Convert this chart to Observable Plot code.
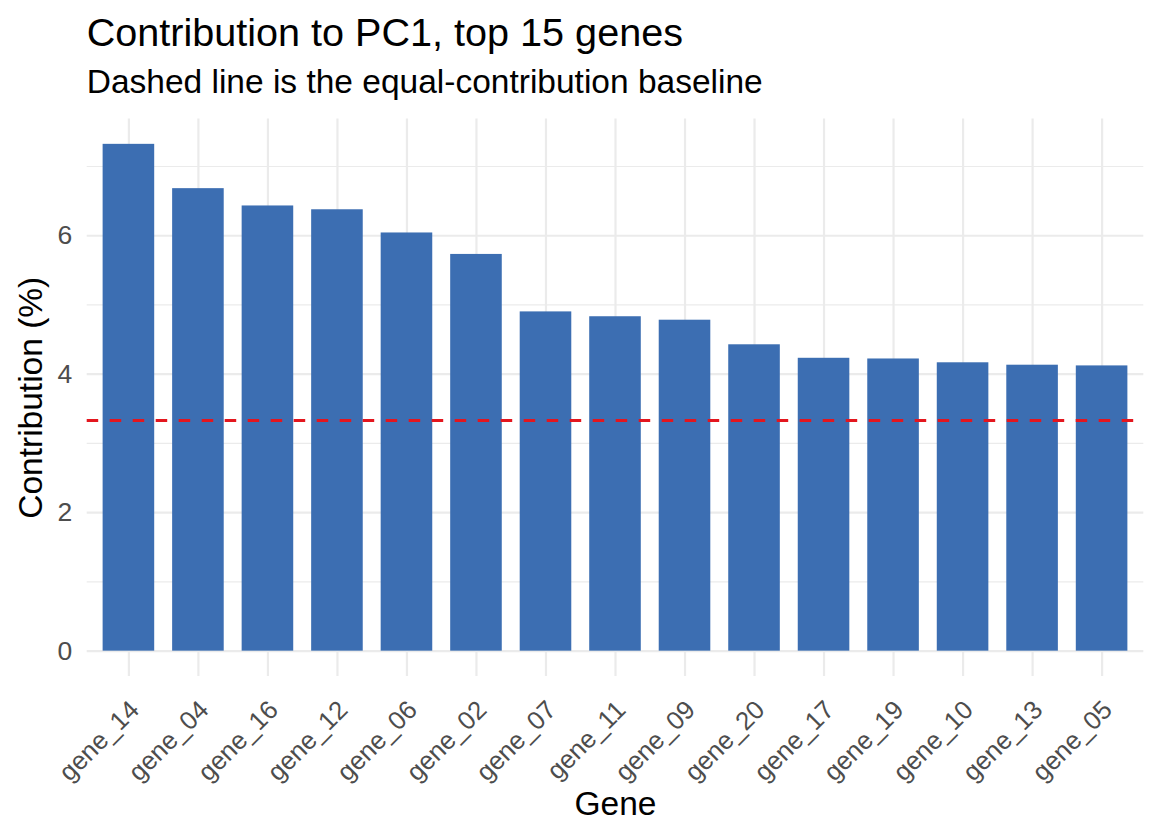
<!DOCTYPE html>
<html>
<head>
<meta charset="utf-8">
<script src="https://cdn.jsdelivr.net/npm/d3@7"></script>
<script src="https://cdn.jsdelivr.net/npm/@observablehq/plot@0.6"></script>
<style>
  html, body { margin: 0; padding: 0; background: #ffffff; }
  #wrap { width: 1160px; height: 840px; position: relative; overflow: hidden; font-family: "Liberation Sans", Arial, Helvetica, sans-serif; }
  #head { position: relative; width: 1160px; height: 110px; }
  #title { position: absolute; left: 86.7px; top: 13px; font-size: 39.6px; line-height: 39.6px; color: #000; white-space: nowrap; }
  #subtitle { position: absolute; left: 86.7px; top: 65.1px; font-size: 33.5px; line-height: 33.5px; color: #000; white-space: nowrap; }
  #chart svg { display: block; }
</style>
</head>
<body>
<div id="wrap">
  <div id="head">
    <div id="title">Contribution to PC1, top 15 genes</div>
    <div id="subtitle">Dashed line is the equal-contribution baseline</div>
  </div>
  <div id="chart"></div>
</div>
<script>
// ---- data ----
const genes = ["gene_14","gene_04","gene_16","gene_12","gene_06","gene_02","gene_07","gene_11","gene_09","gene_20","gene_17","gene_19","gene_10","gene_13","gene_05"];
const contribution = [7.32, 6.68, 6.43, 6.375, 6.04, 5.73, 4.90, 4.83, 4.78, 4.425, 4.23, 4.22, 4.165, 4.13, 4.12];
const baselineValue = [3.333];
const yMajorTicks = [0, 2, 4, 6];
const yMinorTicks = [1, 3, 5, 7];
const yTickLabels = ["0", "2", "4", "6"];
const xTitle = "Gene";
const yTitle = "Contribution (%)";

const data = genes.map((g, i) => ({gene: g, value: contribution[i]}));
const yTicks = yMajorTicks.map((v, i) => ({v, label: yTickLabels[i]}));

const FONT = "Liberation Sans, Arial, Helvetica, sans-serif";
const GRID = "#EBEBEB";
const AXIS_TEXT = "#4D4D4D";

const chart = Plot.plot({
  width: 1160,
  height: 730,
  marginTop: 8.5,
  marginBottom: 164,
  marginLeft: 86.7,
  marginRight: 16.7,
  style: {fontFamily: FONT, fontSize: "26px", background: "#ffffff", color: AXIS_TEXT},
  x: {type: "band", domain: genes, paddingInner: 0.258, paddingOuter: 0.229, align: 0.5, round: false, axis: null},
  y: {domain: [-0.366, 7.686], axis: null},
  marks: [
    Plot.ruleY(yMinorTicks, {stroke: GRID, strokeWidth: 1.2}),
    Plot.ruleY(yMajorTicks, {stroke: GRID, strokeWidth: 2.2}),
    Plot.ruleX(genes, {x: d => d, stroke: GRID, strokeWidth: 2.2}),
    Plot.barY(data, {x: "gene", y: "value", fill: "#3C6EB2"}),
    Plot.ruleY(baselineValue, {stroke: "#E3161E", strokeWidth: 3, strokeDasharray: "11.5,11.5"}),
    Plot.text(yTicks, {
      y: "v", text: "label", frameAnchor: "left", textAnchor: "end", lineAnchor: "middle",
      dx: -15, fontSize: 26.5, fill: AXIS_TEXT
    }),
    Plot.text(genes, {
      x: d => d, text: d => d, frameAnchor: "bottom", rotate: -45,
      textAnchor: "end", lineAnchor: "top", dx: -1.3, dy: 22,
      fontSize: 25.8, fill: AXIS_TEXT
    }),
    Plot.text([xTitle], {
      text: d => d, frameAnchor: "bottom", textAnchor: "middle", lineAnchor: "bottom",
      dy: 138, fontSize: 33.5, fill: "#000000"
    }),
    Plot.text([yTitle], {
      text: d => d, frameAnchor: "left", rotate: -90, textAnchor: "middle", lineAnchor: "bottom",
      dx: -45, fontSize: 33.5, fill: "#000000"
    })
  ]
});
document.getElementById("chart").appendChild(chart);
</script>
</body>
</html>
